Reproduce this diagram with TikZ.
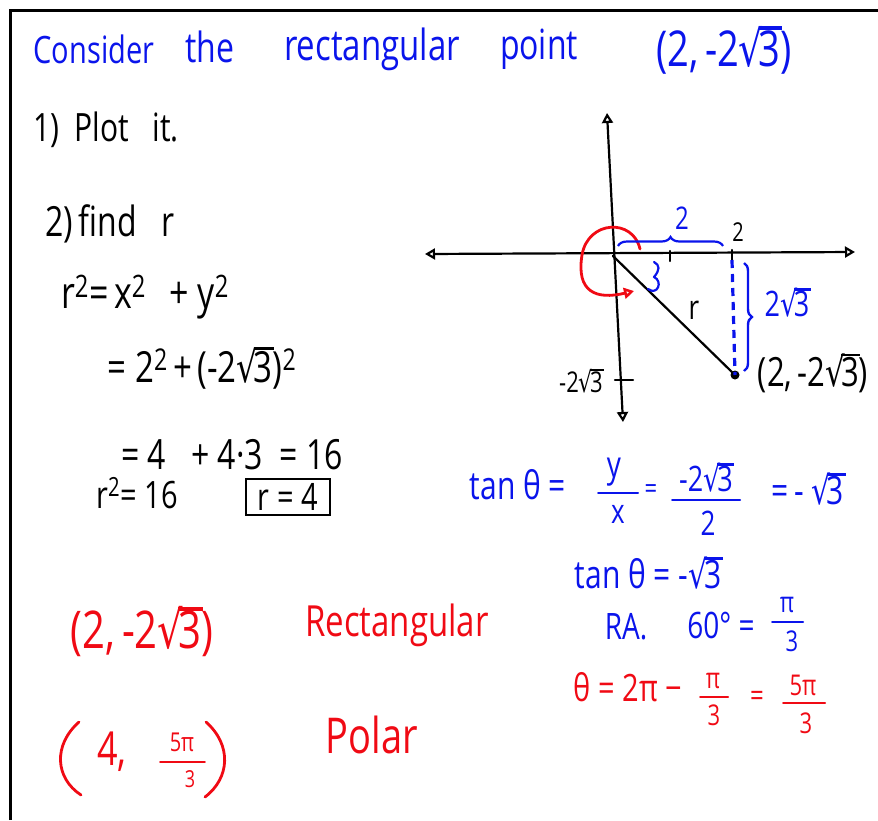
\documentclass[tikz,border=0pt]{standalone}
\usepackage{fontspec}
\setmainfont{Open Sans}
\newfontfamily\dv{DejaVu Sans}
\usetikzlibrary{arrows.meta,decorations.pathreplacing}
\definecolor{inkblue}{RGB}{10,20,235}
\definecolor{inkred}{RGB}{240,10,20}
\newcommand{\T}[2]{{\fontsize{#1}{#1}\selectfont\scalebox{1}[1.3]{#2}}}
\newcommand{\rt}{{\dv √}\kern-0.12em\rlap{\rule[0.74em]{0.62em}{0.07em}}3}
\tikzset{
  hw/.style={inner sep=0pt, anchor=center},
  pen/.style={line width=2.2pt, line cap=round, line join=round},
  opentip/.style={{Triangle[open,length=10pt,width=11pt]}-{Triangle[open,length=10pt,width=11pt]}},
  bluebar/.style={pen, inkblue, line width=2pt},
  redbar/.style={pen, inkred, line width=2pt},
}
\begin{document}
\begin{tikzpicture}[x=1pt,y=-1pt]
\useasboundingbox (0,0) rectangle (878,820);
% frame
\draw[line width=3pt] (10,820) -- (10,10) -- (878,10);

% title
\begin{scope}[inkblue]
\node[hw] (t1) at (94,49) {\T{29}{Consider}};
\node[hw] (t2) at (210,47) {\T{32}{the}};
\node[hw] (t3) at (372,49) {\T{33}{rectangular}};
\node[hw] (t4) at (539,49) {\T{32}{point}};
\node[hw] (t5) at (724,50) {\T{38}{(2,\,-2\rt)}};
\end{scope}

% left column
\node[hw] (s1) at (106,130) {\T{30}{1)\ \ Plot\ \ \ it.}};
\node[hw] (s2) at (110,224) {\T{32}{2)\,find\ \ \ r}};
\node[hw] (s3) at (145,297) {\T{34}{r\textsuperscript{2}=\,x\textsuperscript{2}\ \, +\ y\textsuperscript{2}}};
\node[hw] (s4) at (202,368) {\T{33}{= 2\textsuperscript{2}\,+\,(-2\rt)\textsuperscript{2}}};
\node[hw] (s5) at (232,455) {\T{32}{= 4\ \ \ + 4·3\ \ = 16}};
\node[hw] (s6) at (137,493) {\T{29}{r\textsuperscript{2}= 16}};
\node[hw,draw,line width=1.8pt,minimum width=84pt,minimum height=36pt] (s7) at (288,497) {\T{29}{r = 4}};

% axes
\coordinate (O) at (613,256);
\coordinate (xl) at (425,254);
\coordinate (xr) at (855,252);
\coordinate (yt) at (607,113);
\coordinate (yb) at (623,422);
\coordinate (P) at (735,375);
\draw[pen,opentip] (xl) -- (xr);
\draw[pen,opentip] (yt) -- (yb);

% red angle arc
\coordinate (ra1) at (640,249);
\coordinate (ra2) at (634,291);
\draw[pen,inkred,line width=2.8pt,-{Triangle[open,length=10pt,width=11pt]}]
  (ra1) .. controls (633,218) and (588,220) .. (582,255)
        .. controls (576,292) and (596,300) .. (ra2);

% ticks
\coordinate (tk1) at (670,256);
\coordinate (tk2) at (732,256);
\draw[pen] ([yshift=-5pt]tk1) -- ([yshift=5pt]tk1);
\draw[pen] ([yshift=-6pt]tk2) -- ([yshift=6pt]tk2);
\node[hw] (l2) at (738,232) {\T{20}{2}};
\coordinate (ty) at (620,380);
\draw[pen] ([xshift=-5pt]ty) -- ([xshift=13pt]ty);
\node[hw] (lm) at (581,381) {\T{22}{-2\rt}};

% r line and point
\draw[pen] (O) -- (P);
\fill (P) circle (4.5pt);
\node[hw] (lr) at (694,310) {\T{26}{r}};
\node[hw] (lp) at (813,373) {\T{31}{(2,\,-2\rt)}};

% blue constructions
\coordinate (dt) at (732,260);
\draw[inkblue,line width=3.2pt,dash pattern=on 8pt off 6pt] (dt) -- (P);
\coordinate (b1) at (618,246);
\coordinate (b2) at (723,246);
\draw[inkblue,line width=2.2pt,decorate,decoration={brace,amplitude=9pt}] (b1) -- (b2);
\node[hw,inkblue] (l2b) at (682,218) {\T{24}{2}};
\coordinate (b3) at (744,263);
\coordinate (b4) at (744,371);
\draw[inkblue,line width=2.4pt,decorate,decoration={brace,amplitude=8pt}] (b3) -- (b4);
\node[hw,inkblue] (l23) at (787,303) {\T{27}{2\rt}};
\coordinate (th1) at (654,262);
\coordinate (th2) at (648,289);
\draw[pen,inkblue] (th1) .. controls (660,265) and (660,270) .. (654,277)
  .. controls (663,281) and (658,296) .. (th2);

% tan theta computation (blue)
\begin{scope}[inkblue]
\node[hw] (c1) at (518,485) {\T{30}{tan θ =}};
\node[hw] (c2) at (614,472) {\T{28}{y}};
\draw[bluebar] (598,493) -- (638,493);
\node[hw] (c3) at (618,514) {\T{26}{x}};
\node[hw] (c4) at (651,492) {\T{22}{=}};
\node[hw] (c5) at (706,478) {\T{27}{-2\rt}};
\draw[bluebar] (672,500) -- (740,500);
\node[hw] (c6) at (708,523) {\T{26}{2}};
\node[hw] (c7) at (808,489) {\T{30}{=\,-\ \rt}};
\node[hw] (c8) at (648,573) {\T{30}{tan θ = -\rt}};
\node[hw] (c9) at (626,627) {\T{28}{RA.}};
\node[hw] (c10) at (721,625) {\T{28}{60° =}};
\node[hw] (c11) at (787,605) {\T{22}{π}};
\draw[bluebar] (772,622) -- (803,622);
\node[hw] (c12) at (792,641) {\T{22}{3}};
\end{scope}

% theta (red)
\begin{scope}[inkred]
\node[hw] (d1) at (628,687) {\T{29}{θ = 2π −}};
\node[hw] (d2) at (713,681) {\T{22}{π}};
\draw[redbar] (700,697) -- (728,697);
\node[hw] (d3) at (714,715) {\T{22}{3}};
\node[hw] (d4) at (757,699) {\T{24}{=}};
\node[hw] (d5) at (803,685) {\T{22}{5π}};
\draw[redbar] (783,703) -- (825,703);
\node[hw] (d6) at (806,723) {\T{22}{3}};
\end{scope}

% bottom left (red)
\begin{scope}[inkred]
\node[hw] (e1) at (142,632) {\T{40}{(2,\,-2\rt)}};
\node[hw] (e2) at (397,625) {\T{33}{Rectangular}};
\coordinate (pl1) at (79,722);
\coordinate (pl2) at (81,795);
\coordinate (pr1) at (206,722);
\coordinate (pr2) at (205,797);
\draw[pen,inkred,line width=2.8pt] (pl1) .. controls (53,745) and (55,778) .. (pl2);
\draw[pen,inkred,line width=2.8pt] (pr1) .. controls (232,745) and (230,778) .. (pr2);
\node[hw] (e4) at (112,752) {\T{36}{4,}};
\node[hw] (e5) at (182,742) {\T{20}{5π}};
\draw[redbar,line width=1.8pt] (160,762) -- (205,762);
\node[hw] (e6) at (190,779) {\T{18}{3}};
\node[hw] (e8) at (372,735) {\T{38}{Polar}};
\end{scope}
\end{tikzpicture}
\end{document}
